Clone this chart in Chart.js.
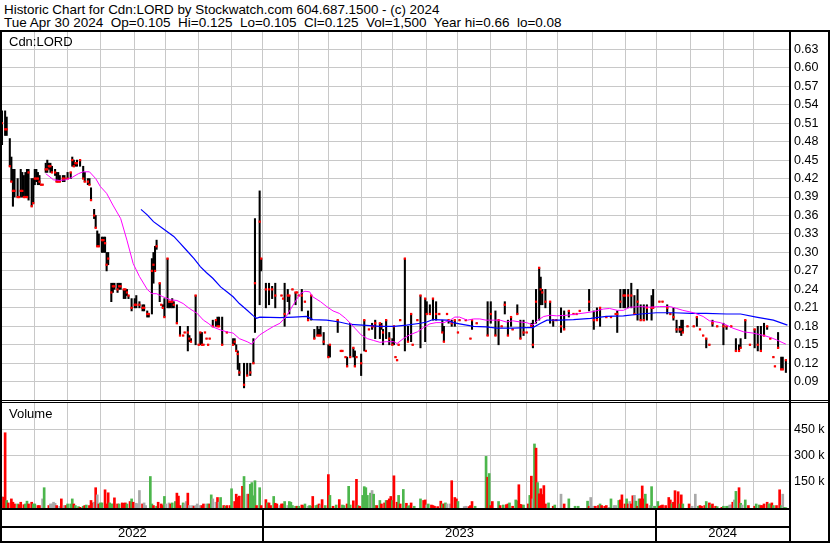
<!DOCTYPE html>
<html><head><meta charset="utf-8">
<script src="https://cdn.jsdelivr.net/npm/chart.js@4.4.1/dist/chart.umd.min.js"></script>
<style>
html,body{margin:0;padding:0;background:#fff;}
body{width:830px;height:543px;position:relative;overflow:hidden;font-family:"Liberation Sans",Arial,sans-serif;}
.t{position:absolute;white-space:pre;font-size:13px;line-height:15px;color:#000;}
.ln{position:absolute;background:#000;}
canvas{position:absolute;}
</style></head><body>
<div class="t" style="left:4px;top:2px;font-size:13.4px">Historic Chart for Cdn:LORD by Stockwatch.com 604.687.1500 - (c) 2024</div>
<div class="t" style="left:4px;top:15px;font-size:13.5px">Tue Apr 30 2024  Op=0.105  Hi=0.125  Lo=0.105  Cl=0.125  Vol=1,500  Year hi=0.66  lo=0.08</div>
<canvas id="pc" style="left:0;top:32px" width="830" height="368"></canvas>
<canvas id="vc" style="left:0;top:403px" width="830" height="140"></canvas>
<div class="t" style="left:9px;top:34px">Cdn:LORD</div>
<div class="t" style="left:9px;top:406px">Volume</div>
<div class="ln" style="left:0;top:30px;width:830px;height:2px"></div>
<div class="ln" style="left:0;top:30px;width:2px;height:513px"></div>
<div class="ln" style="left:828px;top:30px;width:2px;height:513px"></div>
<div class="ln" style="left:789px;top:30px;width:2px;height:513px"></div>
<div class="ln" style="left:0;top:400px;width:830px;height:1px"></div>
<div class="ln" style="left:0;top:402px;width:830px;height:1px"></div>
<div class="ln" style="left:0;top:508px;width:791px;height:2px"></div>
<div class="ln" style="left:0;top:526px;width:791px;height:2px"></div>
<div class="ln" style="left:0;top:541px;width:830px;height:2px"></div>
<script>
// ---- axis data ----
const monthStartDay = [21,42,63,85,105,126,147,167,190,209,230,250,272,292,313,336,356,378,399,419,441,462,481];
const yearStartDay = [167,419];
const yearMidDay = [83.5,293,461.5];
const yearLabels = ['2022','2023','2024'];
const priceTickValues = [0.09,0.12,0.15,0.18,0.21,0.24,0.27,0.30,0.33,0.36,0.39,0.42,0.45,0.48,0.51,0.54,0.57,0.60,0.63];
const priceTickLabels = ['0.09','0.12','0.15','0.18','0.21','0.24','0.27','0.30','0.33','0.36','0.39','0.42','0.45','0.48','0.51','0.54','0.57','0.60','0.63'];
const volTickValues = [150,300,450];
const volTickLabels = ['150 k','300 k','450 k'];

// ---- daily price bars (trading-day index, low, high, close) ----
const priceDay = [
0,2,3,5,6,7,8,10,11,12,
13,14,15,16,17,19,20,21,22,23,
24,25,26,28,29,30,31,32,34,35,
36,37,39,40,42,44,45,46,47,48,
50,52,53,55,56,57,59,60,61,62,
64,65,66,67,68,70,71,72,74,75,
76,78,79,80,81,83,85,86,88,90,
91,93,94,96,97,98,99,101,102,103,
104,106,107,108,109,110,112,114,116,117,
119,120,121,124,126,127,128,129,130,131,
132,133,135,137,138,139,141,144,148,149,
150,151,152,155,157,159,161,162,165,166,
169,171,173,175,179,180,181,183,184,186,
188,189,190,192,194,196,198,200,202,203,
204,206,209,210,215,217,218,220,221,223,
225,226,227,230,232,233,235,237,238,239,
242,243,244,246,248,250,251,252,253,254,
255,258,260,262,263,266,268,271,272,274,
276,278,280,282,283,285,286,288,290,292,
293,297,300,301,304,311,313,316,318,320,
322,324,326,327,330,332,334,336,339,340,
342,344,345,346,348,351,353,355,358,360,
363,366,368,370,376,379,381,383,387,390,
393,394,396,398,399,401,403,405,407,409,
411,413,416,417,421,423,426,428,430,432,
434,435,436,439,443,445,447,449,451,453,
455,458,462,464,467,470,472,473,476,479,
482,484,486,488,490,492,494,495,497,499,
500,502];
const priceLow = [
.475,.49,.49,.44,.415,.375,.39,.39,.39,.39,
.39,.39,.39,.39,.385,.375,.38,.41,.415,.41,
.41,.41,.41,.43,.43,.435,.43,.43,.425,.415,
.415,.415,.415,.415,.42,.42,.44,.44,.44,.44,
.44,.42,.415,.41,.41,.385,.355,.34,.31,.31,
.30,.30,.30,.27,.28,.22,.235,.24,.235,.24,
.24,.225,.225,.23,.225,.205,.21,.21,.21,.205,
.205,.195,.195,.20,.25,.27,.305,.22,.215,.21,
.195,.21,.21,.21,.21,.21,.185,.165,.165,.17,
.14,.155,.155,.15,.15,.15,.15,.15,.17,.16,
.15,.16,.18,.18,.18,.18,.15,.17,.15,.15,
.14,.11,.10,.08,.10,.10,.12,.17,.215,.27,
.21,.215,.225,.21,.23,.225,.18,.22,.20,.24,
.215,.235,.23,.205,.22,.19,.19,.16,.165,.165,
.165,.15,.13,.13,.17,.14,.14,.13,.115,.13,
.13,.115,.13,.10,.14,.14,.175,.175,.18,.16,
.16,.175,.15,.16,.15,.15,.15,.13,.125,.15,
.19,.14,.155,.155,.15,.19,.145,.155,.20,.20,
.19,.19,.20,.17,.155,.20,.185,.18,.18,.17,
.19,.19,.16,.175,.185,.165,.185,.165,.15,.18,
.20,.165,.18,.175,.20,.16,.165,.17,.18,.145,
.185,.19,.215,.215,.21,.185,.18,.19,.17,.175,
.195,.20,.20,.205,.205,.175,.19,.18,.195,.195,
.20,.17,.21,.21,.21,.21,.21,.20,.19,.19,
.19,.19,.19,.21,.22,.22,.20,.20,.19,.17,
.17,.165,.17,.18,.18,.18,.175,.165,.145,.15,
.18,.18,.15,.175,.18,.14,.14,.145,.16,.15,
.145,.14,.14,.165,.175,.16,.13,.115,.145,.11,
.11,.105];
const priceHigh = [
.53,.53,.52,.485,.455,.435,.435,.42,.39,.435,
.43,.425,.43,.435,.435,.42,.42,.435,.435,.43,
.425,.41,.41,.445,.45,.445,.445,.44,.435,.43,
.43,.425,.425,.425,.43,.43,.455,.45,.445,.45,
.45,.44,.43,.42,.42,.405,.37,.36,.335,.33,
.325,.325,.325,.30,.30,.25,.25,.25,.25,.25,
.25,.24,.24,.24,.23,.225,.225,.23,.22,.215,
.215,.205,.20,.29,.30,.31,.32,.25,.215,.215,
.225,.29,.22,.22,.225,.22,.215,.18,.165,.17,
.18,.165,.16,.23,.15,.17,.17,.15,.17,.16,
.15,.16,.19,.19,.195,.195,.195,.17,.16,.16,
.15,.14,.12,.12,.12,.12,.16,.355,.40,.29,
.25,.25,.245,.25,.23,.225,.25,.24,.23,.24,
.235,.235,.23,.24,.22,.205,.23,.175,.18,.175,
.18,.17,.15,.15,.19,.14,.14,.13,.13,.185,
.145,.14,.13,.135,.19,.14,.175,.185,.18,.19,
.185,.185,.175,.19,.17,.16,.18,.13,.125,.15,
.19,.29,.18,.20,.15,.19,.23,.225,.22,.215,
.225,.22,.20,.19,.18,.20,.19,.19,.19,.17,
.19,.19,.16,.19,.185,.22,.22,.205,.19,.18,
.22,.19,.195,.175,.215,.19,.19,.17,.185,.19,
.24,.275,.26,.24,.24,.22,.19,.19,.21,.205,
.205,.20,.20,.205,.24,.205,.21,.21,.195,.195,
.20,.205,.24,.24,.24,.24,.25,.23,.24,.215,
.215,.215,.23,.24,.22,.22,.215,.20,.21,.19,
.18,.19,.19,.18,.18,.195,.175,.165,.16,.15,
.19,.18,.185,.18,.18,.16,.15,.16,.19,.15,
.175,.18,.18,.185,.18,.16,.13,.115,.17,.13,
.13,.125];
const priceClose = [
.51,.50,.50,.44,.415,.40,.40,.39,.39,.40,
.40,.39,.39,.39,.43,.375,.38,.42,.42,.42,
.415,.41,.41,.435,.435,.44,.44,.43,.43,.415,
.415,.415,.42,.42,.42,.43,.45,.44,.445,.445,
.45,.42,.415,.415,.41,.385,.36,.34,.31,.31,
.32,.32,.315,.28,.29,.235,.245,.245,.24,.245,
.245,.24,.24,.235,.23,.21,.215,.215,.215,.21,
.21,.20,.20,.27,.28,.27,.31,.25,.215,.21,
.195,.29,.22,.22,.22,.215,.185,.165,.165,.17,
.17,.16,.155,.23,.15,.17,.15,.15,.17,.16,
.15,.16,.18,.19,.18,.18,.15,.17,.15,.155,
.14,.135,.105,.085,.10,.105,.12,.25,.35,.29,
.24,.24,.24,.23,.23,.225,.20,.23,.23,.24,
.235,.235,.23,.23,.22,.19,.23,.16,.165,.165,
.165,.155,.13,.15,.19,.14,.14,.13,.115,.13,
.145,.115,.13,.12,.19,.14,.175,.18,.18,.185,
.185,.18,.17,.19,.16,.15,.18,.13,.125,.15,
.19,.29,.155,.20,.15,.19,.23,.225,.20,.20,
.225,.20,.20,.17,.155,.20,.19,.185,.19,.17,
.19,.19,.16,.19,.185,.165,.20,.165,.19,.18,
.215,.165,.195,.175,.20,.16,.17,.17,.18,.15,
.22,.275,.24,.235,.22,.22,.19,.19,.18,.175,
.205,.20,.20,.205,.22,.19,.19,.21,.195,.195,
.20,.20,.22,.23,.23,.23,.23,.20,.22,.19,
.19,.21,.21,.21,.22,.22,.21,.20,.195,.175,
.175,.175,.17,.18,.18,.195,.175,.165,.16,.15,
.185,.18,.18,.18,.18,.14,.14,.145,.19,.15,
.175,.15,.14,.165,.18,.16,.13,.115,.145,.11,
.11,.125];

// ---- moving averages ----
const maFastDay = [28,33,37,41,45,49,52,56,60,63,67,71,76,80,84,88,93,96,99,103,108,112,116,120,125,129,132,135,140,144,148,152,157,160,162,165,170,174,178,182,187,191,194,197,199,204,208,212,216,220,223,226,230,234,238,242,246,251,253,257,261,266,270,274,278,283,287,290,293,298,302,306,310,315,319,323,327,332,336,340,343,347,351,355,362,368,374,379,385,389,394,398,402,409,415,421,428,432,436,443,449,453,460,464,468,475,481,488,492,496,502];
const maFastVal = [.428,.418,.417,.418,.422,.428,.431,.431,.420,.407,.396,.377,.355,.320,.282,.261,.240,.233,.233,.228,.223,.222,.217,.209,.201,.190,.185,.179,.174,.171,.169,.160,.155,.151,.158,.166,.174,.180,.185,.196,.217,.233,.237,.236,.228,.220,.212,.205,.201,.193,.185,.177,.166,.160,.157,.154,.155,.155,.152,.160,.166,.171,.178,.184,.186,.186,.190,.195,.195,.190,.192,.192,.190,.190,.190,.187,.189,.187,.186,.182,.190,.196,.198,.197,.198,.200,.202,.204,.208,.209,.206,.206,.211,.212,.211,.212,.212,.209,.206,.202,.196,.189,.186,.182,.177,.171,.169,.165,.162,.158,.151];
const maSlowDay = [89,93,97,103,110,114,118,123,127,131,135,140,144,148,152,157,161,163,165,178,187,195,199,208,216,223,231,242,251,259,268,272,276,285,289,293,302,310,317,327,336,340,345,349,357,366,377,387,398,409,419,430,441,451,464,473,483,494,503];
const maSlowVal = [.370,.361,.350,.339,.326,.315,.304,.290,.277,.267,.258,.244,.236,.228,.217,.206,.197,.193,.195,.194,.195,.196,.191,.190,.187,.183,.182,.180,.180,.182,.185,.187,.191,.190,.186,.184,.180,.179,.177,.177,.178,.178,.185,.190,.190,.191,.193,.196,.197,.200,.202,.202,.201,.201,.200,.200,.195,.190,.182];

// ---- volume (thousands of shares); u = up, d = down, n = unchanged ----
const volDay = [
0,1,2,3,4,6,7,8,10,11, 12,14,15,16,17,19,20,21,23,24,
26,27,30,31,32,33,34,35,37,38, 40,41,42,44,45,46,47,49,50,52,
53,54,56,57,58,59,60,61,62,63, 64,66,67,68,69,70,71,72,74,75,
77,78,79,80,82,83,84,86,87,88, 90,91,92,95,96,97,99,100,102,103,
104,105,107,108,109,111,112,113,114,116, 117,118,119,120,122,123,124,125,127,128,
129,131,132,133,134,135,137,138,139,140, 142,143,144,146,147,149,150,151,152,154,
155,157,158,159,160,161,162,163,165,166, 169,170,171,172,174,175,176,178,179,180,
181,183,184,185,186,188,189,190,192,193, 194,196,197,198,199,201,202,203,204,205,
207,209,210,212,214,216,218,219,221,222, 223,225,227,228,229,231,232,233,234,236,
237,238,239,240,242,243,245,246,247,248, 249,250,251,253,254,255,257,259,260,261,
262,264,268,270,271,272,273,275,276,277, 279,281,282,283,284,285,287,288,290,291,
292,296,297,299,300,301,303,310,311,312, 313,314,318,319,321,323,324,325,327,329,
330,331,332,333,334,337,338,339,340,341, 342,343,344,345,346,347,348,350,353,354,
358,360,363,367,369,375,376,377,378,379, 380,382,383,384,386,387,389,390,392,393,
395,396,397,399,400,401,402,403,404,405, 406,407,408,409,410,411,412,413,415,416,
417,418,420,421,422,423,425,427,428,429, 430,431,433,434,435,436,440,442,444,446,
447,448,450,451,453,454,455,457,458,461, 462,464,465,466,467,468,469,470,472,473,
474,476,478,482,483,485,486,487,488,490, 491,492,493,494,496,498,499,500,501,502];
const volK = [
64,62,430,43,29,52,33,23,23,19, 33,19,23,39,23,33,23,23,14,14,
52,116,14,23,23,33,27,14,10,52, 14,14,23,23,52,23,14,8,4,10,
14,17,14,43,29,33,116,75,23,29, 29,104,23,87,29,23,23,58,23,23,
29,27,29,23,37,52,33,27,23,100, 23,29,14,180,23,14,10,33,23,14,
66,23,29,23,29,37,85,68,14,29, 23,37,85,14,14,10,14,23,14,14,
23,23,23,23,75,52,33,60,33,60, 14,10,14,14,110,37,79,60,68,124,
180,79,79,135,145,70,156,14,116,14, 48,29,29,14,66,27,23,14,23,23,
37,14,37,33,14,10,10,10,17,14, 23,10,14,10,66,14,17,23,17,48,
14,191,72,10,17,48,17,14,23,124, 17,41,164,14,10,72,122,116,72,85,
100,79,14,14,43,23,29,43,43,52, 66,43,184,33,72,23,106,27,10,14,
29,10,52,43,46,17,23,17,14,10, 8,39,23,23,29,23,23,156,60,52,
37,8,10,8,14,37,10,295,176,197, 14,37,37,14,17,19,23,29,10,46,
41,133,21,17,17,23,72,182,52,366, 342,145,81,110,77,128,23,29,10,17,
79,23,52,10,10,39,10,60,10,10, 10,14,23,14,10,14,4,52,14,14,
43,46,75,23,52,23,37,23,70,72, 39,10,52,52,126,52,79,23,14,122,
10,10,37,10,14,17,14,60,46,23, 33,99,93,23,75,23,23,10,79,10,
14,10,14,37,29,17,23,10,8,4, 10,10,10,17,17,33,46,95,116,27,
17,46,14,10,23,17,14,14,23,33, 23,23,29,14,14,104,14,79,4,2];
const volDir = [
'n','d','d','u','d','d','d','d','u','d', 'd','d','u','u','d','d','u','u','d','d',
'n','u','d','n','n','n','n','d','n','d', 'n','d','u','u','u','d','u','u','d','u',
'd','u','d','d','d','n','d','n','d','u', 'u','d','d','d','u','u','u','d','d','u',
'd','d','d','u','d','u','d','n','n','n', 'd','n','n','u','u','d','u','d','d','d',
'u','n','n','d','u','u','d','d','d','u', 'n','n','d','n','n','d','n','n','n','d',
'd','n','u','d','u','n','n','d','n','u', 'd','u','d','d','u','d','d','d','d','d',
'u','n','d','u','u','u','u','d','u','d', 'd','u','d','d','u','d','d','n','d','d',
'u','n','u','u','u','u','d','u','d','d', 'u','n','u','u','d','u','u','d','n','d',
'u','d','u','d','u','d','u','u','d','u', 'u','d','d','u','d','u','u','u','u','u',
'n','u','u','d','u','d','d','u','d','d', 'd','u','d','d','u','d','u','d','u','u',
'd','u','u','d','d','n','u','d','d','d', 'd','d','u','d','u','n','n','d','d','d',
'u','n','n','d','d','d','u','u','d','u', 'd','d','u','d','u','d','d','u','d','u',
'u','d','d','d','u','d','u','d','n','u', 'd','u','d','d','d','d','d','u','d','u',
'n','d','u','u','u','u','d','n','n','n', 'd','d','u','d','d','d','n','u','n','n',
'u','d','d','d','u','d','n','d','d','n', 'u','d','u','d','d','d','u','d','n','u',
'n','u','u','d','d','d','d','d','d','u', 'd','d','d','u','d','u','d','n','n','u',
'd','d','d','u','d','u','d','d','u','d', 'u','u','u','n','n','d','n','u','d','u',
'n','u','d','d','u','u','d','d','d','d', 'u','u','d','u','d','d','u','n','u','u'];

// ---- styles ----
const GRID = '#c8c8c8';
const FONT = "'Liberation Sans', Arial, sans-serif";
const DIR_COLOR = {u:'#4cb64c', d:'#ff0000', n:'#a9a9a9'};
Chart.defaults.font.family = FONT;

const rangePts = priceDay.map((d,i)=>({x:d, y:[priceLow[i], priceHigh[i]]}));
const closePts = priceDay.map((d,i)=>({x:d, y:priceClose[i]}));
const fastPts = maFastDay.map((d,i)=>({x:d, y:maFastVal[i]}));
const slowPts = maSlowDay.map((d,i)=>({x:d, y:maSlowVal[i]}));
const volPts = volDay.map((d,i)=>({x:d, y:volK[i]}));
const volColors = volDir.map(k=>DIR_COLOR[k]);

const fitX = h => s => { s.height = h; s.paddingLeft = 0; s.paddingRight = 0; s.paddingTop = 0; s.paddingBottom = 0; };
const fitY = s => { s.width = 41; s.paddingTop = 0; s.paddingBottom = 0; s.paddingLeft = 0; s.paddingRight = 0; };
const monthGrid = s => { s.ticks = monthStartDay.map(v=>({value:v})); };
const xMonthAxis = () => ({
  type:'linear', min:0, max:504, offset:false, position:'bottom', weight:0,
  ticks:{display:false}, grid:{color:GRID, lineWidth:1, drawTicks:false, offset:false},
  border:{display:false}, afterBuildTicks: monthGrid, afterFit: fitX(0)
});

new Chart(document.getElementById('pc'), {
  type:'bar',
  data:{datasets:[
    {type:'line', data:fastPts, borderColor:'#ff00ff', borderWidth:1, pointRadius:0, pointHoverRadius:0, fill:false, tension:0, order:0},
    {type:'line', data:slowPts, borderColor:'#0000ff', borderWidth:1.2, pointRadius:0, pointHoverRadius:0, fill:false, tension:0, order:1},
    {type:'scatter', data:closePts, pointStyle:'rect', pointRadius:1.6, pointHoverRadius:1.6, pointBackgroundColor:'#ff0000', pointBorderWidth:0, order:2},
    {type:'bar', data:rangePts, backgroundColor:'#000000', barThickness:1.4, order:3}
  ]},
  options:{
    responsive:false, animation:false, devicePixelRatio:1,
    layout:{autoPadding:false, padding:{left:2, right:0, top:0, bottom:0}},
    plugins:{legend:{display:false}, tooltip:{enabled:false}},
    scales:{
      x: xMonthAxis(),
      y:{position:'right', min:0.0603, max:0.6581,
         afterBuildTicks: s=>{ s.ticks = priceTickValues.map(v=>({value:v})); },
         ticks:{callback:(v,i)=>priceTickLabels[i], color:'#000', font:{size:12.5, family:FONT}, padding:5, autoSkip:false},
         grid:{color:GRID, lineWidth:1, drawTicks:false}, border:{display:false},
         afterFit: fitY}
    }
  }
});

const bandPlugin = {
  id:'band',
  afterDraw(chart){
    const ctx = chart.ctx, xs = chart.scales.x, top = chart.chartArea.bottom;
    ctx.save(); ctx.fillStyle = '#000';
    yearStartDay.forEach(d=>{ const px = Math.round(xs.getPixelForValue(d)); ctx.fillRect(px-1, top, 2, chart.height - top); });
    ctx.restore();
  }
};

new Chart(document.getElementById('vc'), {
  type:'bar',
  data:{datasets:[{data:volPts, backgroundColor:volColors, barThickness:2, xAxisID:'x', yAxisID:'y'}]},
  options:{
    responsive:false, animation:false, devicePixelRatio:1,
    layout:{autoPadding:false, padding:{left:2, right:0, top:0, bottom:0}},
    plugins:{legend:{display:false}, tooltip:{enabled:false}},
    scales:{
      x: xMonthAxis(),
      x2:{type:'linear', min:0, max:504, offset:false, position:'bottom', weight:1,
          afterBuildTicks: s=>{ s.ticks = yearMidDay.map(v=>({value:v})); },
          ticks:{callback:(v,i)=>yearLabels[i], color:'#000', font:{size:13, family:FONT}, padding:18, autoSkip:false, maxRotation:0},
          grid:{display:false, drawTicks:false}, border:{display:false},
          afterFit: fitX(35)},
      y:{position:'right', min:0, max:600,
         afterBuildTicks: s=>{ s.ticks = volTickValues.map(v=>({value:v})); },
         ticks:{callback:(v,i)=>volTickLabels[i], color:'#000', font:{size:12.5, family:FONT}, padding:5, autoSkip:false},
         grid:{color:GRID, lineWidth:1, drawTicks:false}, border:{display:false},
         afterFit: fitY}
    }
  },
  plugins:[bandPlugin]
});
</script>
</body></html>
